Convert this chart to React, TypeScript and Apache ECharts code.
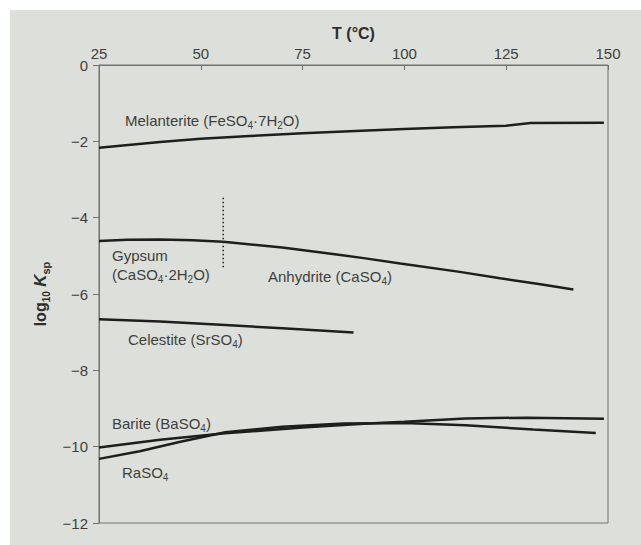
import React, { useEffect, useRef } from "react";
import * as echarts from "echarts";

const xTicks = [25, 50, 75, 100, 125, 150];
const yTicks = [0, -2, -4, -6, -8, -10, -12];

const melanteriteT = [25, 40, 50, 62, 75, 88, 100, 112, 125, 131, 149];
const melanteriteLogK = [-2.17, -2.02, -1.93, -1.86, -1.79, -1.73, -1.68, -1.63, -1.59, -1.52, -1.51];

const gypsumT = [25, 32, 40, 48, 55.5];
const gypsumLogK = [-4.61, -4.58, -4.57, -4.59, -4.63];

const anhydriteT = [55.5, 70, 81, 90, 99, 113.6, 123.5, 133, 141.5];
const anhydriteLogK = [-4.63, -4.78, -4.93, -5.06, -5.2, -5.42, -5.59, -5.74, -5.88];

const celestiteT = [25, 40, 56, 70, 87.5];
const celestiteLogK = [-6.66, -6.72, -6.81, -6.9, -7.01];

const bariteT = [25, 40, 56, 75, 90, 100, 115, 130, 149];
const bariteLogK = [-10.02, -9.82, -9.65, -9.5, -9.4, -9.35, -9.26, -9.24, -9.27];

const raso4T = [25, 35, 45, 56, 70, 85, 100, 115, 131.6, 147];
const raso4LogK = [-10.32, -10.12, -9.87, -9.62, -9.48, -9.39, -9.38, -9.44, -9.55, -9.64];

const transitionT = [55.5, 55.5];
const transitionLogK = [-3.48, -5.32];

const FONT = "Liberation Sans";
const TXT = "#3e3f3c";
const AXIS = "#707270";

export default function App() {
  const ref = useRef<HTMLDivElement>(null);
  useEffect(() => {
    const chart = echarts.init(ref.current!, null, { renderer: "svg" });
    const pair = (t: number[], v: number[]) => t.map((x, i) => [x, v[i]]);
    const curve = { color: "#1e1f1c", width: 2.5 };
    const mk = (name: string, t: number[], v: number[]) => ({
      type: "line",
      name,
      data: pair(t, v),
      symbol: "none",
      showSymbol: false,
      silent: true,
      lineStyle: curve,
      z: 3,
    });
    const rich = {
      n: { fontSize: 15, lineHeight: 21, fontFamily: FONT, fill: TXT },
      s: { fontSize: 10, lineHeight: 10, fontFamily: FONT, fill: TXT, verticalAlign: "bottom" },
    };
    const label = (x: number, y: number, text: string) => ({
      type: "text",
      x,
      y,
      z: 20,
      silent: true,
      style: {
        text,
        rich,
        fill: TXT,
        fontSize: 15,
        fontFamily: FONT,
        align: "left",
        verticalAlign: "middle",
      },
    });
    chart.setOption({
      animation: false,
      backgroundColor: "#dde0da",
      grid: {
        left: 99,
        right: 33,
        top: 65,
        bottom: 22,
        show: true,
        borderColor: AXIS,
        borderWidth: 1,
        backgroundColor: "transparent",
      },
      xAxis: {
        type: "value",
        position: "top",
        min: xTicks[0],
        max: xTicks[xTicks.length - 1],
        interval: 25,
        axisLine: { show: true, lineStyle: { color: AXIS, width: 1 } },
        axisTick: { show: true, inside: true, length: 5, lineStyle: { color: AXIS } },
        axisLabel: {
          margin: 4,
          fontSize: 15,
          color: TXT,
          fontFamily: FONT,
          showMinLabel: true,
          showMaxLabel: true,
        },
        splitLine: { show: false },
        name: "T (°C)",
        nameLocation: "middle",
        nameGap: 20,
        nameTextStyle: { fontSize: 16, fontWeight: "bold", color: "#2e2f2c", fontFamily: FONT },
      },
      yAxis: {
        type: "value",
        min: yTicks[yTicks.length - 1],
        max: yTicks[0],
        interval: 2,
        axisLine: { show: true, lineStyle: { color: AXIS, width: 1 } },
        axisTick: { show: true, inside: false, length: 6, lineStyle: { color: AXIS } },
        axisLabel: {
          margin: 11,
          fontSize: 15,
          color: TXT,
          fontFamily: FONT,
          showMinLabel: true,
          showMaxLabel: true,
          formatter: (v: number) => String(v).replace("-", "\u2212"),
        },
        splitLine: { show: false },
        name: "{b|log}{s|10}{b| }{k|K}{ss|sp}",
        nameLocation: "middle",
        nameGap: 40,
        nameTextStyle: {
          rich: {
            b: { fontSize: 16, fontWeight: "bold", color: "#2e2f2c", fontFamily: FONT, lineHeight: 22 },
            k: { fontSize: 17, fontWeight: "bold", fontStyle: "italic", color: "#2e2f2c", fontFamily: FONT, lineHeight: 22 },
            s: { fontSize: 10, fontWeight: "bold", color: "#2e2f2c", fontFamily: FONT, lineHeight: 10, verticalAlign: "bottom" },
            ss: { fontSize: 11, fontWeight: "bold", color: "#2e2f2c", fontFamily: FONT, lineHeight: 10, verticalAlign: "bottom" },
          },
        },
      },
      graphic: [
        { type: "rect", shape: { x: 0, y: 0, width: 641, height: 10 }, style: { fill: "#ffffff" }, z: 30, silent: true },
        { type: "rect", shape: { x: 0, y: 0, width: 10, height: 545 }, style: { fill: "#ffffff" }, z: 30, silent: true },
        label(125, 120, "{n|Melanterite (FeSO}{s|4}{n|\u00b77H}{s|2}{n|O)}"),
        label(112, 255, "{n|Gypsum}"),
        label(112, 274, "{n|(CaSO}{s|4}{n|\u00b72H}{s|2}{n|O)}"),
        label(268, 276, "{n|Anhydrite (CaSO}{s|4}{n|)}"),
        label(128, 339, "{n|Celestite (SrSO}{s|4}{n|)}"),
        label(112, 423, "{n|Barite (BaSO}{s|4}{n|)}"),
        label(122, 472, "{n|RaSO}{s|4}"),
      ],
      series: [
        mk("Melanterite", melanteriteT, melanteriteLogK),
        mk("Gypsum", gypsumT, gypsumLogK),
        mk("Anhydrite", anhydriteT, anhydriteLogK),
        mk("Celestite", celestiteT, celestiteLogK),
        mk("Barite", bariteT, bariteLogK),
        mk("RaSO4", raso4T, raso4LogK),
        {
          type: "line",
          name: "transition",
          data: pair(transitionT, transitionLogK),
          symbol: "none",
          silent: true,
          lineStyle: { color: "#2a2b28", width: 1.6, type: [1.5, 2.5] },
          z: 2,
        },
      ],
    });
    return () => chart.dispose();
  }, []);
  return (
    <div
      ref={ref}
      style={{ position: "fixed", left: 0, top: 0, width: 641, height: 545 }}
    />
  );
}
